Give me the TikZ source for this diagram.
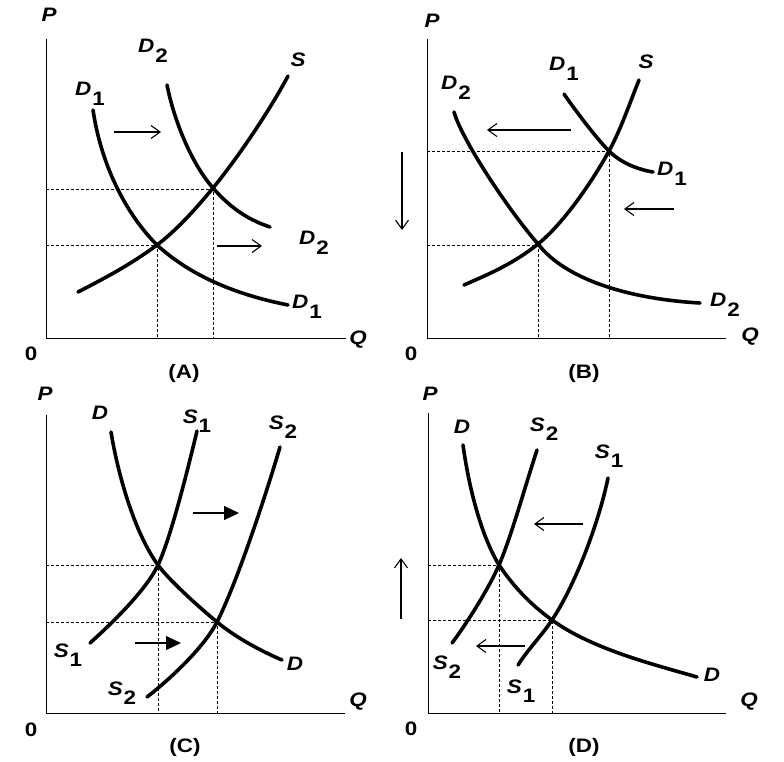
\documentclass[tikz,border=0pt]{standalone}
\usepackage{fontspec}
\setmainfont{Liberation Sans}[FakeStretch=1.15]
\usetikzlibrary{arrows.meta}
\newcommand{\lab}[2]{\textit{#1}\hspace{1pt}\raisebox{-9.5pt}{#2}}
\begin{document}
\begin{tikzpicture}[x=1pt,y=-1pt,
  axis/.style={line width=1pt},
  curve/.style={line width=3.6pt,line cap=round,line join=round},
  guide/.style={line width=0.8pt,dash pattern=on 3pt off 2pt},
  shiftarrow/.style={line width=1.1pt,-{Straight Barb[length=9pt,width=13pt,line width=1.1pt]}},
  bigshiftarrow/.style={line width=1.1pt,-{Triangle[length=15pt,width=14pt]}},
  txt/.style={inner sep=0pt,font=\fontsize{19.5}{23}\selectfont\bfseries}]
\useasboundingbox[fill=white] (0,0) rectangle (784,761);

% ---------------- Panel A ----------------
\draw[axis] (46,39) -- (46,338) -- (346,338);
\draw[guide] (46,189) -- (213,189) -- (213,338);
\draw[guide] (46,245) -- (157,245) -- (157,338);
% D1
\draw[curve] (93,110) .. controls (102,170) and (129,217) .. (157,245)
                      .. controls (192,277) and (238,295) .. (288,305);
% D2
\draw[curve] (167,85) .. controls (174,120) and (191,163) .. (213,188)
                      .. controls (233,211) and (252,221) .. (270,227);
% S
\draw[curve] (78,292) .. controls (105,278) and (130,265) .. (157,245)
                      .. controls (176,230.6) and (194,211) .. (213,188)
                      .. controls (238,157.5) and (270,110) .. (288,76);
\draw[shiftarrow] (114,132) -- (161,132);
\draw[shiftarrow] (217,246) -- (262,246);
\node[txt] (aP) at (49,15) {\textit{P}};
\node[txt] (aQ) at (358,340) {\textit{Q}};
\node[txt] (a0) at (31,354) {0};
\node[txt] (aT) at (184,373) {(A)};
\node[txt] (aD2t) at (153,51) {\lab{D}{2}};
\node[txt] (aD1t) at (90,94) {\lab{D}{1}};
\node[txt] (aS) at (298,60) {\textit{S}};
\node[txt] (aD2r) at (314,243) {\lab{D}{2}};
\node[txt] (aD1r) at (307,307) {\lab{D}{1}};

% ---------------- Panel B ----------------
\draw[axis] (427,39) -- (427,338) -- (726,338);
\draw[guide] (427,151) -- (609,151) -- (609,338);
\draw[guide] (427,245) -- (538,245) -- (538,338);
% D1
\draw[curve] (564,94) .. controls (574,108.6) and (596,138) .. (609,151)
                      .. controls (621,163) and (638,169.5) .. (653,172);
% D2
\draw[curve] (454,112) .. controls (462,140) and (508,209.5) .. (538,244)
                      .. controls (566,280) and (630,299) .. (700,303);
% S
\draw[curve] (464,285) .. controls (489,274) and (513,264) .. (538,244)
                       .. controls (563,224) and (592,182) .. (609,151)
                       .. controls (621,129) and (629,105) .. (639,80);
\draw[shiftarrow] (571,130) -- (487,130);
\draw[shiftarrow] (674,209) -- (624,209);
\draw[shiftarrow] (402,152) -- (402,230);
\node[txt] (bP) at (432,21) {\textit{P}};
\node[txt] (bQ) at (750,337) {\textit{Q}};
\node[txt] (b0) at (411,354) {0};
\node[txt] (bT) at (584,373) {(B)};
\node[txt] (bD1t) at (564,69) {\lab{D}{1}};
\node[txt] (bS) at (646,62) {\textit{S}};
\node[txt] (bD2t) at (456,88) {\lab{D}{2}};
\node[txt] (bD1r) at (672,174) {\lab{D}{1}};
\node[txt] (bD2r) at (725,305) {\lab{D}{2}};

% ---------------- Panel C ----------------
\draw[axis] (46,415) -- (46,713) -- (345,713);
\draw[guide] (46,565) -- (158,565) -- (158,713);
\draw[guide] (46,622) -- (217,622) -- (217,713);
% D
\draw[curve] (111,432) .. controls (119,480) and (136,535) .. (158,565)
                       .. controls (170,581.5) and (203,610.5) .. (217,622)
                       .. controls (237,638.4) and (262,651.4) .. (282,660);
% S1
\draw[curve] (90,643) .. controls (110,625) and (146,590.7) .. (158,565)
                      .. controls (172,535) and (190,459.7) .. (197,431);
% S2
\draw[curve] (147,697) .. controls (169,680) and (204,647.6) .. (217,622)
                       .. controls (237,582.6) and (266,494.6) .. (280,447);
\draw[bigshiftarrow] (193,513) -- (239,513);
\draw[bigshiftarrow] (135,643) -- (181,643);
\node[txt] (cP) at (45,394) {\textit{P}};
\node[txt] (cQ) at (358,702) {\textit{Q}};
\node[txt] (c0) at (31,730) {0};
\node[txt] (cT) at (185,747) {(C)};
\node[txt] (cDt) at (100,413) {\textit{D}};
\node[txt] (cS1t) at (197,421) {\lab{S}{1}};
\node[txt] (cS2t) at (283,427) {\lab{S}{2}};
\node[txt] (cS1b) at (68,655) {\lab{S}{1}};
\node[txt] (cS2b) at (122,693) {\lab{S}{2}};
\node[txt] (cDr) at (295,664) {\textit{D}};

% ---------------- Panel D ----------------
\draw[axis] (428,413) -- (428,713) -- (726,713);
\draw[guide] (428,565) -- (499,565) -- (499,713);
\draw[guide] (428,620) -- (552,620) -- (552,713);
% D
\draw[curve] (463,445) .. controls (470,495) and (483,538.5) .. (499,565)
                       .. controls (514,587) and (530,604) .. (552,620)
                       .. controls (592,649) and (652,664) .. (697,677);
% S2
\draw[curve] (452,643) .. controls (464,627.4) and (488,590.3) .. (499,565)
                       .. controls (511,537.4) and (525,486.6) .. (537,450);
% S1
\draw[curve] (518,665) .. controls (529,648) and (541,636.5) .. (552,620)
                       .. controls (574,587) and (598,526) .. (608,478);
\draw[shiftarrow] (583,524) -- (534,524);
\draw[shiftarrow] (525,646) -- (476,646);
\draw[shiftarrow] (401,619) -- (401,558);
\node[txt] (dP) at (430,394) {\textit{P}};
\node[txt] (dQ) at (749,702) {\textit{Q}};
\node[txt] (d0) at (411,729) {0};
\node[txt] (dT) at (584,747) {(D)};
\node[txt] (dDt) at (462,427) {\textit{D}};
\node[txt] (dS2t) at (544,429) {\lab{S}{2}};
\node[txt] (dS1t) at (609,456) {\lab{S}{1}};
\node[txt] (dS2b) at (447,667) {\lab{S}{2}};
\node[txt] (dS1b) at (521,691) {\lab{S}{1}};
\node[txt] (dDr) at (712,675) {\textit{D}};
\end{tikzpicture}
\end{document}
